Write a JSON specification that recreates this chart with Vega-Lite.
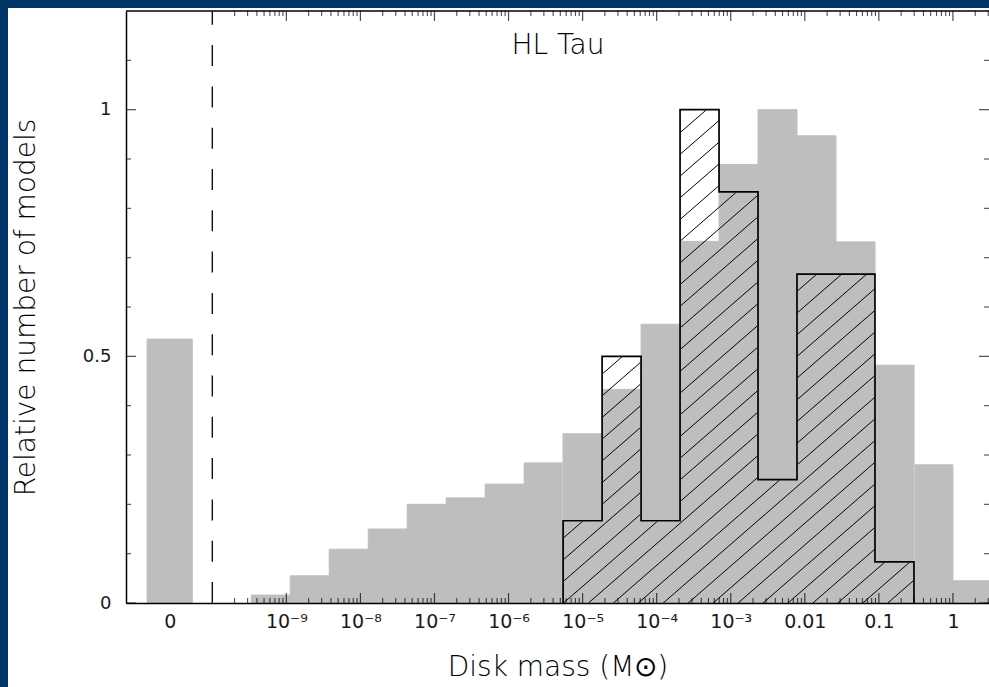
{
  "$schema": "https://vega.github.io/schema/vega-lite/v6.json",
  "width": 863,
  "height": 592,
  "autosize": {"type": "none"},
  "padding": {"left": 126, "top": 11, "right": 0, "bottom": 84},
  "background": "#003366",
  "datasets": {
    "bins": [
      {"lo": -10.88, "hi": -10.27, "gray": 0.535},
      {"lo": -9.4737, "hi": -8.9474, "gray": 0.016},
      {"lo": -8.9474, "hi": -8.4211, "gray": 0.055},
      {"lo": -8.4211, "hi": -7.8947, "gray": 0.109},
      {"lo": -7.8947, "hi": -7.3684, "gray": 0.150},
      {"lo": -7.3684, "hi": -6.8421, "gray": 0.200},
      {"lo": -6.8421, "hi": -6.3158, "gray": 0.213},
      {"lo": -6.3158, "hi": -5.7895, "gray": 0.241},
      {"lo": -5.7895, "hi": -5.2632, "gray": 0.284},
      {"lo": -5.2632, "hi": -4.7368, "gray": 0.343, "hatched": 0.1667},
      {"lo": -4.7368, "hi": -4.2105, "gray": 0.433, "hatched": 0.5},
      {"lo": -4.2105, "hi": -3.6842, "gray": 0.565, "hatched": 0.1667},
      {"lo": -3.6842, "hi": -3.1579, "gray": 0.733, "hatched": 1.0},
      {"lo": -3.1579, "hi": -2.6316, "gray": 0.889, "hatched": 0.8333},
      {"lo": -2.6316, "hi": -2.1053, "gray": 1.0, "hatched": 0.25},
      {"lo": -2.1053, "hi": -1.5789, "gray": 0.947, "hatched": 0.6667},
      {"lo": -1.5789, "hi": -1.0526, "gray": 0.732, "hatched": 0.6667},
      {"lo": -1.0526, "hi": -0.5263, "gray": 0.482, "hatched": 0.0833},
      {"lo": -0.5263, "hi": 0.0, "gray": 0.280},
      {"lo": 0.0, "hi": 0.5263, "gray": 0.045}
    ],
    "outline": [
      {"i": 0, "e": -5.2632, "y": 0},
      {"i": 1, "e": -5.2632, "y": 0.1667},
      {"i": 2, "e": -4.7368, "y": 0.5},
      {"i": 3, "e": -4.2105, "y": 0.1667},
      {"i": 4, "e": -3.6842, "y": 1.0},
      {"i": 5, "e": -3.1579, "y": 0.8333},
      {"i": 6, "e": -2.6316, "y": 0.25},
      {"i": 7, "e": -2.1053, "y": 0.6667},
      {"i": 8, "e": -1.5789, "y": 0.6667},
      {"i": 9, "e": -1.0526, "y": 0.0833},
      {"i": 10, "e": -0.5263, "y": 0}
    ],
    "hatch": [
      {"x0": -5.2632, "y0": 0.9671, "x1": -5.011, "y1": 1.0},
      {"x0": -5.2632, "y0": 0.9231, "x1": -4.674, "y1": 1.0},
      {"x0": -5.2632, "y0": 0.8791, "x1": -4.337, "y1": 1.0},
      {"x0": -5.2632, "y0": 0.8351, "x1": -4.0006, "y1": 1.0},
      {"x0": -5.2632, "y0": 0.7911, "x1": -3.6638, "y1": 1.0},
      {"x0": -5.2632, "y0": 0.7471, "x1": -3.327, "y1": 1.0},
      {"x0": -5.2632, "y0": 0.7031, "x1": -2.9902, "y1": 1.0},
      {"x0": -5.2632, "y0": 0.6592, "x1": -2.6534, "y1": 1.0},
      {"x0": -5.2632, "y0": 0.6152, "x1": -2.3166, "y1": 1.0},
      {"x0": -5.2632, "y0": 0.5712, "x1": -1.9798, "y1": 1.0},
      {"x0": -5.2632, "y0": 0.5272, "x1": -1.643, "y1": 1.0},
      {"x0": -5.2632, "y0": 0.4832, "x1": -1.3062, "y1": 1.0},
      {"x0": -5.2632, "y0": 0.4392, "x1": -0.9694, "y1": 1.0},
      {"x0": -5.2632, "y0": 0.3952, "x1": -0.6326, "y1": 1.0},
      {"x0": -5.2632, "y0": 0.3513, "x1": -0.5263, "y1": 0.9699},
      {"x0": -5.2632, "y0": 0.3073, "x1": -0.5263, "y1": 0.9259},
      {"x0": -5.2632, "y0": 0.2633, "x1": -0.5263, "y1": 0.8819},
      {"x0": -5.2632, "y0": 0.2193, "x1": -0.5263, "y1": 0.8379},
      {"x0": -5.2632, "y0": 0.1753, "x1": -0.5263, "y1": 0.7940},
      {"x0": -5.2632, "y0": 0.1313, "x1": -0.5263, "y1": 0.7500},
      {"x0": -5.2632, "y0": 0.0873, "x1": -0.5263, "y1": 0.7060},
      {"x0": -5.2632, "y0": 0.0434, "x1": -0.5263, "y1": 0.6620},
      {"x0": -5.2584, "y0": 0, "x1": -0.5263, "y1": 0.6180},
      {"x0": -4.9216, "y0": 0, "x1": -0.5263, "y1": 0.5740},
      {"x0": -4.5848, "y0": 0, "x1": -0.5263, "y1": 0.5300},
      {"x0": -4.248, "y0": 0, "x1": -0.5263, "y1": 0.4861},
      {"x0": -3.9112, "y0": 0, "x1": -0.5263, "y1": 0.4421},
      {"x0": -3.5744, "y0": 0, "x1": -0.5263, "y1": 0.3981},
      {"x0": -3.2376, "y0": 0, "x1": -0.5263, "y1": 0.3541},
      {"x0": -2.9008, "y0": 0, "x1": -0.5263, "y1": 0.3101},
      {"x0": -2.564, "y0": 0, "x1": -0.5263, "y1": 0.2661},
      {"x0": -2.2272, "y0": 0, "x1": -0.5263, "y1": 0.2221},
      {"x0": -1.8904, "y0": 0, "x1": -0.5263, "y1": 0.1782},
      {"x0": -1.5536, "y0": 0, "x1": -0.5263, "y1": 0.1342},
      {"x0": -1.2168, "y0": 0, "x1": -0.5263, "y1": 0.0902},
      {"x0": -0.88, "y0": 0, "x1": -0.5263, "y1": 0.0462}
    ],
    "xMajor": [
      {"e": -9}, {"e": -8}, {"e": -7}, {"e": -6}, {"e": -5},
      {"e": -4}, {"e": -3}, {"e": -2}, {"e": -1}, {"e": 0}
    ],
    "xMinor": [
      {"e": -9.699}, {"e": -9.523}, {"e": -9.398}, {"e": -9.301}, {"e": -9.222}, {"e": -9.155}, {"e": -9.097}, {"e": -9.046},
      {"e": -8.699}, {"e": -8.523}, {"e": -8.398}, {"e": -8.301}, {"e": -8.222}, {"e": -8.155}, {"e": -8.097}, {"e": -8.046},
      {"e": -7.699}, {"e": -7.523}, {"e": -7.398}, {"e": -7.301}, {"e": -7.222}, {"e": -7.155}, {"e": -7.097}, {"e": -7.046},
      {"e": -6.699}, {"e": -6.523}, {"e": -6.398}, {"e": -6.301}, {"e": -6.222}, {"e": -6.155}, {"e": -6.097}, {"e": -6.046},
      {"e": -5.699}, {"e": -5.523}, {"e": -5.398}, {"e": -5.301}, {"e": -5.222}, {"e": -5.155}, {"e": -5.097}, {"e": -5.046},
      {"e": -4.699}, {"e": -4.523}, {"e": -4.398}, {"e": -4.301}, {"e": -4.222}, {"e": -4.155}, {"e": -4.097}, {"e": -4.046},
      {"e": -3.699}, {"e": -3.523}, {"e": -3.398}, {"e": -3.301}, {"e": -3.222}, {"e": -3.155}, {"e": -3.097}, {"e": -3.046},
      {"e": -2.699}, {"e": -2.523}, {"e": -2.398}, {"e": -2.301}, {"e": -2.222}, {"e": -2.155}, {"e": -2.097}, {"e": -2.046},
      {"e": -1.699}, {"e": -1.523}, {"e": -1.398}, {"e": -1.301}, {"e": -1.222}, {"e": -1.155}, {"e": -1.097}, {"e": -1.046},
      {"e": -0.699}, {"e": -0.523}, {"e": -0.398}, {"e": -0.301}, {"e": -0.222}, {"e": -0.155}, {"e": -0.097}, {"e": -0.046},
      {"e": 0.301}, {"e": 0.477}
    ],
    "yMajor": [{"v": 0}, {"v": 0.5}, {"v": 1.0}],
    "yMinor": [
      {"v": 0.1}, {"v": 0.2}, {"v": 0.3}, {"v": 0.4}, {"v": 0.6},
      {"v": 0.7}, {"v": 0.8}, {"v": 0.9}, {"v": 1.1}
    ],
    "caption": [{"label": "HL Tau"}]
  },
  "layer": [
    {
      "data": {"name": "bins"},
      "mark": {"type": "rect", "color": "#bebebe", "stroke": "#bebebe", "strokeWidth": 1, "clip": true},
      "encoding": {
        "x": {
          "field": "lo", "type": "quantitative",
          "scale": {"domain": [-11.165, 0.487], "nice": false, "zero": false},
          "axis": {
            "zindex": 1,
            "values": [-10.575, -9, -8, -7, -6, -5, -4, -3, -2, -1, 0],
            "labelExpr": "datum.value < -10 ? '0' : datum.value == -9 ? '10⁻⁹' : datum.value == -8 ? '10⁻⁸' : datum.value == -7 ? '10⁻⁷' : datum.value == -6 ? '10⁻⁶' : datum.value == -5 ? '10⁻⁵' : datum.value == -4 ? '10⁻⁴' : datum.value == -3 ? '10⁻³' : datum.value == -2 ? '0.01' : datum.value == -1 ? '0.1' : '1'",
            "ticks": false,
            "grid": false,
            "domainColor": "#000000",
            "domainWidth": 1.5,
            "labelFont": "DejaVu Sans",
            "labelFontSize": 19,
            "labelFontWeight": "normal",
            "labelColor": "#1a1a1a",
            "labelPadding": 24,
            "labelBaseline": "alphabetic",
            "labelFlush": false,
            "labelOverlap": false,
            "title": "Disk mass (M⊙)",
            "titleFontSize": 28,
            "titleFontWeight": 300,
            "titleColor": "#000000",
            "titlePadding": 22
          }
        },
        "x2": {"field": "hi"},
        "y": {
          "field": "gray", "type": "quantitative",
          "scale": {"domain": [0, 1.2], "nice": false, "zero": false},
          "axis": {
            "zindex": 1,
            "values": [0, 0.5, 1],
            "labelExpr": "'' + datum.value",
            "ticks": false,
            "grid": false,
            "domainColor": "#000000",
            "domainWidth": 1.5,
            "labelFont": "DejaVu Sans",
            "labelFontSize": 18,
            "labelFontWeight": "normal",
            "labelColor": "#1a1a1a",
            "labelPadding": 15,
            "labelBaseline": "middle",
            "labelFlush": false,
            "labelOverlap": false,
            "title": "Relative number of models",
            "titleFontSize": 28,
            "titleFontWeight": 300,
            "titleColor": "#000000",
            "titlePadding": 42
          }
        },
        "y2": {"datum": 0}
      }
    },
    {
      "data": {"values": [{}]},
      "mark": {"type": "rect", "color": "#003366"},
      "encoding": {
        "x": {"datum": -12.76, "type": "quantitative", "scale": {"domain": [-11.165, 0.487], "nice": false, "zero": false}},
        "x2": {"datum": 0.6},
        "y": {"datum": 1.2061, "type": "quantitative", "scale": {"domain": [0, 1.2], "nice": false, "zero": false}},
        "y2": {"datum": 1.5}
      }
    },
    {
      "data": {"name": "hatch"},
      "mark": {"type": "rule", "color": "#000000", "strokeWidth": 1},
      "encoding": {
        "x": {"field": "x0", "type": "quantitative", "scale": {"domain": [-11.165, 0.487], "nice": false, "zero": false}},
        "x2": {"field": "x1"},
        "y": {"field": "y0", "type": "quantitative", "scale": {"domain": [0, 1.2], "nice": false, "zero": false}},
        "y2": {"field": "y1"}
      }
    },
    {
      "data": {"name": "bins"},
      "transform": [{"filter": "isValid(datum.hatched)"}],
      "mark": {"type": "rect", "color": "#ffffff", "stroke": "#ffffff", "strokeWidth": 1},
      "encoding": {
        "x": {"field": "lo", "type": "quantitative", "scale": {"domain": [-11.165, 0.487], "nice": false, "zero": false}},
        "x2": {"field": "hi"},
        "y": {"field": "hatched", "type": "quantitative", "scale": {"domain": [0, 1.2], "nice": false, "zero": false}},
        "y2": {"datum": 1.02}
      }
    },
    {
      "data": {"name": "bins"},
      "transform": [{"filter": "isValid(datum.hatched) && datum.gray > datum.hatched"}],
      "mark": {"type": "rect", "color": "#bebebe", "stroke": "#bebebe", "strokeWidth": 1},
      "encoding": {
        "x": {"field": "lo", "type": "quantitative", "scale": {"domain": [-11.165, 0.487], "nice": false, "zero": false}},
        "x2": {"field": "hi"},
        "y": {"field": "hatched", "type": "quantitative", "scale": {"domain": [0, 1.2], "nice": false, "zero": false}},
        "y2": {"field": "gray"}
      }
    },
    {
      "data": {"name": "outline"},
      "mark": {"type": "line", "interpolate": "step-after", "color": "#000000", "strokeWidth": 1.7},
      "encoding": {
        "x": {"field": "e", "type": "quantitative", "scale": {"domain": [-11.165, 0.487], "nice": false, "zero": false}},
        "y": {"field": "y", "type": "quantitative", "scale": {"domain": [0, 1.2], "nice": false, "zero": false}},
        "order": {"field": "i", "type": "quantitative"}
      }
    },
    {
      "data": {"values": [{}]},
      "mark": {"type": "rule", "color": "#000000", "strokeWidth": 1.3, "strokeDash": [21, 20.3]},
      "encoding": {
        "x": {"datum": -10, "type": "quantitative", "scale": {"domain": [-11.165, 0.487], "nice": false, "zero": false}},
        "y": {"datum": 0, "type": "quantitative", "scale": {"domain": [0, 1.2], "nice": false, "zero": false}},
        "y2": {"datum": 1.2}
      }
    },
    {
      "data": {"name": "xMajor"},
      "mark": {"type": "tick", "orient": "vertical", "size": 10, "thickness": 1.2, "yOffset": -5, "color": "#000000"},
      "encoding": {
        "x": {"field": "e", "type": "quantitative", "scale": {"domain": [-11.165, 0.487], "nice": false, "zero": false}},
        "y": {"datum": 0, "type": "quantitative", "scale": {"domain": [0, 1.2], "nice": false, "zero": false}}
      }
    },
    {
      "data": {"name": "xMinor"},
      "mark": {"type": "tick", "orient": "vertical", "size": 5, "thickness": 1.1, "yOffset": -2.5, "color": "#000000"},
      "encoding": {
        "x": {"field": "e", "type": "quantitative", "scale": {"domain": [-11.165, 0.487], "nice": false, "zero": false}},
        "y": {"datum": 0, "type": "quantitative", "scale": {"domain": [0, 1.2], "nice": false, "zero": false}}
      }
    },
    {
      "data": {"name": "xMajor"},
      "mark": {"type": "tick", "orient": "vertical", "size": 10, "thickness": 1.2, "yOffset": 5, "color": "#000000"},
      "encoding": {
        "x": {"field": "e", "type": "quantitative", "scale": {"domain": [-11.165, 0.487], "nice": false, "zero": false}},
        "y": {"datum": 1.2, "type": "quantitative", "scale": {"domain": [0, 1.2], "nice": false, "zero": false}}
      }
    },
    {
      "data": {"name": "xMinor"},
      "mark": {"type": "tick", "orient": "vertical", "size": 5, "thickness": 1.1, "yOffset": 2.5, "color": "#000000"},
      "encoding": {
        "x": {"field": "e", "type": "quantitative", "scale": {"domain": [-11.165, 0.487], "nice": false, "zero": false}},
        "y": {"datum": 1.2, "type": "quantitative", "scale": {"domain": [0, 1.2], "nice": false, "zero": false}}
      }
    },
    {
      "data": {"name": "yMajor"},
      "mark": {"type": "tick", "orient": "horizontal", "size": 10, "thickness": 1.2, "xOffset": 5, "color": "#000000"},
      "encoding": {
        "x": {"datum": -11.165, "type": "quantitative", "scale": {"domain": [-11.165, 0.487], "nice": false, "zero": false}},
        "y": {"field": "v", "type": "quantitative", "scale": {"domain": [0, 1.2], "nice": false, "zero": false}}
      }
    },
    {
      "data": {"name": "yMinor"},
      "mark": {"type": "tick", "orient": "horizontal", "size": 5, "thickness": 1.1, "xOffset": 2.5, "color": "#000000"},
      "encoding": {
        "x": {"datum": -11.165, "type": "quantitative", "scale": {"domain": [-11.165, 0.487], "nice": false, "zero": false}},
        "y": {"field": "v", "type": "quantitative", "scale": {"domain": [0, 1.2], "nice": false, "zero": false}}
      }
    },
    {
      "data": {"name": "yMajor"},
      "mark": {"type": "tick", "orient": "horizontal", "size": 10, "thickness": 1.2, "xOffset": -5, "color": "#000000"},
      "encoding": {
        "x": {"datum": 0.487, "type": "quantitative", "scale": {"domain": [-11.165, 0.487], "nice": false, "zero": false}},
        "y": {"field": "v", "type": "quantitative", "scale": {"domain": [0, 1.2], "nice": false, "zero": false}}
      }
    },
    {
      "data": {"name": "yMinor"},
      "mark": {"type": "tick", "orient": "horizontal", "size": 5, "thickness": 1.1, "xOffset": -2.5, "color": "#000000"},
      "encoding": {
        "x": {"datum": 0.487, "type": "quantitative", "scale": {"domain": [-11.165, 0.487], "nice": false, "zero": false}},
        "y": {"field": "v", "type": "quantitative", "scale": {"domain": [0, 1.2], "nice": false, "zero": false}}
      }
    },
    {
      "data": {"values": [{}]},
      "mark": {"type": "rule", "color": "#000000", "strokeWidth": 1.5},
      "encoding": {
        "x": {"datum": -11.165, "type": "quantitative", "scale": {"domain": [-11.165, 0.487], "nice": false, "zero": false}},
        "x2": {"datum": 0.487},
        "y": {"datum": 1.2, "type": "quantitative", "scale": {"domain": [0, 1.2], "nice": false, "zero": false}}
      }
    },
    {
      "data": {"name": "caption"},
      "mark": {"type": "text", "align": "center", "baseline": "alphabetic", "fontSize": 28, "fontWeight": 300, "color": "#000000"},
      "encoding": {
        "text": {"field": "label"},
        "x": {"datum": -5.332, "type": "quantitative", "scale": {"domain": [-11.165, 0.487], "nice": false, "zero": false}},
        "y": {"datum": 1.1128, "type": "quantitative", "scale": {"domain": [0, 1.2], "nice": false, "zero": false}}
      }
    }
  ],
  "config": {
    "font": "DejaVu Sans",
    "view": {"fill": "#ffffff", "stroke": "#ffffff", "strokeWidth": 236}
  }
}
